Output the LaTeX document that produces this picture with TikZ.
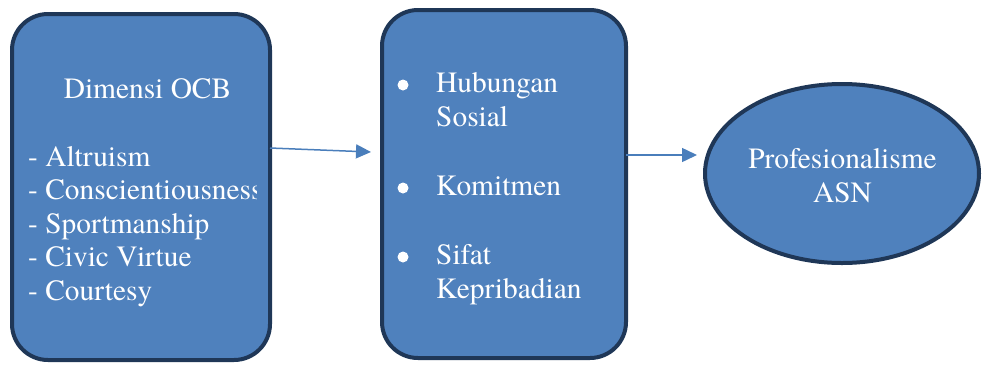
\documentclass[tikz,border=0pt]{standalone}
\usepackage{fontspec}
\newfontfamily\tnr{texgyretermes-regular.otf}
\usetikzlibrary{shapes.geometric,arrows.meta,calc}
\definecolor{boxfill}{HTML}{4F81BD}
\definecolor{boxline}{HTML}{1F3757}
\definecolor{arrowc}{HTML}{4A7EBB}
\tikzset{
  card/.style={draw=boxline, fill=boxfill, line width=4pt, rounded corners=36pt, inner sep=0pt, outer sep=0pt},
  oval/.style={ellipse, draw=boxline, fill=boxfill, line width=4pt, inner sep=0pt, outer sep=0pt},
  txt/.style={text=white, font=\tnr\fontsize{29.4}{33.5}\selectfont, inner sep=0pt, anchor=base west},
  ctxt/.style={text=white, font=\tnr\fontsize{29.4}{33.5}\selectfont, inner sep=0pt, anchor=base},
  arr/.style={draw=arrowc, line width=1.5pt, -{Triangle[length=15pt,width=14pt]}},
  dot/.style={circle, fill=white, inner sep=0pt, minimum size=11pt}
}
\begin{document}
\begin{tikzpicture}[x=1pt,y=-1pt]
\useasboundingbox (0,0) rectangle (983,365);
% boxes
\node[card, minimum width=258pt, minimum height=346pt] (box1) at (141,187) {};
\node[card, minimum width=244pt, minimum height=348pt] (box2) at (504,184) {};
\node[oval, minimum width=274pt, minimum height=179pt] (ell) at (842,173.5) {};
% box 1 text
\node[ctxt] (t0) at (147.5,98) {Dimensi OCB};
\begin{scope}
\clip (20,100) rectangle (256,330);
\node[txt] (t1) at (28,166) {- Altruism};
\node[txt] (t2) at (28,199.5) {- Conscientiousness};
\node[txt] (t3) at (28,233) {- Sportmanship};
\node[txt] (t4) at (28,266.5) {- Civic Virtue};
\node[txt] (t5) at (28,300) {- Courtesy};
\end{scope}
% box 2 text
\node[dot] (d1) at (403,85) {};
\node[txt] (u1) at (436,92.5) {Hubungan};
\node[txt] (u2) at (436,126) {Sosial};
\node[dot] (d2) at (403,188) {};
\node[txt] (u3) at (436,195.5) {Komitmen};
\node[dot] (d3) at (403,257) {};
\node[txt] (u4) at (436,264.5) {Sifat};
\node[txt] (u5) at (436,298) {Kepribadian};
% ellipse text
\node[ctxt] (e1) at (842.5,168) {Profesionalisme};
\node[ctxt] (e2) at (842.5,202) {ASN};
% connectors
\coordinate (a1s) at (box1.east |- 0,148);
\coordinate (a1e) at (371,152);
\draw[arr] (a1s) -- (a1e);
\coordinate (a2s) at (box2.east |- 0,155);
\coordinate (a2e) at ([xshift=-8pt]ell.west |- 0,155);
\draw[arr] (a2s) -- (a2e);
\end{tikzpicture}
\end{document}
